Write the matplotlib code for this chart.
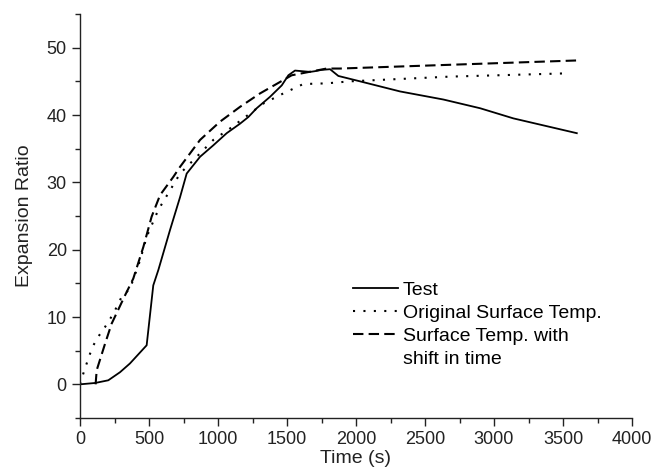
import matplotlib.pyplot as plt
from matplotlib.lines import Line2D
from matplotlib.ticker import MultipleLocator

plt.rcParams['font.family'] = ['Liberation Sans', 'DejaVu Sans']

# Test measurements
test_t = [0, 109, 205, 290, 362, 483, 531, 568, 652, 725, 773, 870, 966, 1063,
          1159, 1220, 1280, 1377, 1462, 1510, 1558, 1667, 1700, 1750, 1812, 1872,
          2029, 2319, 2633, 2900, 3140, 3600]
test_v = [0, 0.2, 0.6, 1.8, 3.1, 5.8, 14.7, 17.0, 22.9, 27.8, 31.3, 33.8, 35.5,
          37.3, 38.7, 39.7, 41.0, 42.7, 44.4, 45.9, 46.6, 46.4, 46.5, 46.7, 46.8,
          45.8, 45.0, 43.5, 42.3, 41.0, 39.5, 37.3]

# Original surface temperature prediction
orig_t = [0, 24, 68, 97, 140, 181, 242, 302, 362, 435, 483, 567, 652, 725, 870,
          966, 1087, 1328, 1473, 1618, 1787, 1957, 2681, 3551]
orig_v = [0, 1.6, 4.3, 5.8, 7.3, 8.5, 10.5, 13.0, 14.2, 18.4, 21.9, 25.9, 28.8,
          31.3, 34.3, 36.3, 38.0, 41.7, 43.2, 44.6, 44.7, 45.0, 45.7, 46.2]

# Surface temperature with shift in time
shift_t = [113, 121, 181, 229, 326, 386, 459, 519, 580, 676, 725, 870, 1014,
           1159, 1304, 1449, 1534, 1787, 1884, 3600]
shift_v = [0, 2.1, 6.0, 9.0, 13.2, 15.7, 20.4, 24.9, 28.1, 30.8, 32.3, 36.3,
           39.0, 41.2, 43.2, 44.9, 45.9, 46.9, 46.9, 48.1]

fig = plt.figure(figsize=(6.51, 4.69), dpi=100)
ax = fig.add_axes([80 / 651, 51 / 469, 552 / 651, 404 / 469])

ax.plot(test_t, test_v, color='black', lw=1.3)
ax.plot(orig_t, orig_v, color='black', lw=1.5, linestyle=(0, (1, 4)))
ax.plot(shift_t, shift_v, color='black', lw=1.5, linestyle=(0, (5, 2.5)))

ax.set_xlim(0, 4000)
ax.set_ylim(-5, 55)
ax.xaxis.set_major_locator(MultipleLocator(500))
ax.xaxis.set_minor_locator(MultipleLocator(250))
ax.yaxis.set_minor_locator(MultipleLocator(5))
ax.set_yticks(range(0, 51, 10))

for side in ['top', 'right']:
    ax.spines[side].set_visible(False)
for side in ['left', 'bottom']:
    ax.spines[side].set_color('#222222')
    ax.spines[side].set_linewidth(1.0)
ax.tick_params(which='major', direction='out', length=6, width=1.0,
               labelsize=13, colors='#222222')
ax.tick_params(which='minor', direction='out', length=3.5, width=1.0,
               colors='#222222')

ax.set_xlabel('Time (s)', fontsize=14, color='#222222', labelpad=1)
ax.set_ylabel('Expansion Ratio', fontsize=14, color='#222222', labelpad=10)

# legend: the wrapped second line of the last entry gets a blank handle
handles = [Line2D([], [], color='black', lw=1.3),
           Line2D([], [], color='black', lw=1.5, linestyle=(0, (1, 4))),
           Line2D([], [], color='black', lw=1.5, linestyle=(0, (5, 2.5))),
           Line2D([], [], color='none')]
labels = ['Test', 'Original Surface Temp.', 'Surface Temp. with', 'shift in time']
ax.legend(handles, labels, loc='upper left', bbox_to_anchor=(0.495, 0.338),
          frameon=False, fontsize=14, handlelength=2.3, handletextpad=0.25,
          labelspacing=0.28, borderpad=0, borderaxespad=0)

fig.savefig('out.png', dpi=100)
